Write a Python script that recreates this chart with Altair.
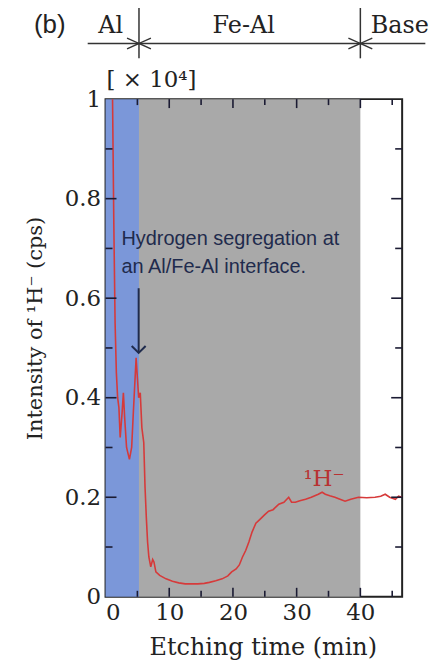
import altair as alt
import pandas as pd

# ---- data ----
time_min = [0.9, 1.1, 1.3, 1.5, 1.7, 1.9, 2.1, 2.3, 2.6, 2.8, 3.0, 3.3, 3.75, 4.1, 4.4, 4.8,
            5.0, 5.2, 5.45, 5.7, 6.0, 6.2, 6.4, 6.6, 6.8, 7.1, 7.4, 7.6, 7.9, 8.5, 9.5, 10.5,
            11.5, 12.5, 13.5, 14.5, 15.5, 16.3, 17.3, 18.3, 19.2, 19.8, 20.5, 21.0, 21.5, 22.0,
            22.5, 23.0, 23.6, 24.2, 25.0, 25.6, 26.3, 27.2, 28.0, 28.75, 29.2, 29.8, 30.5, 31.4,
            32.3, 33.4, 34.0, 34.5, 35.2, 36.0, 36.8, 37.6, 38.5, 39.7, 41.0, 42.3, 43.2, 43.9,
            44.6, 45.5, 46.0, 46.5]
intensity = [1.15, 1.0, 0.75, 0.55, 0.45, 0.40, 0.38, 0.32, 0.37, 0.41, 0.36, 0.30, 0.276, 0.30, 0.38, 0.48,
             0.44, 0.40, 0.41, 0.34, 0.31, 0.22, 0.16, 0.11, 0.08, 0.06, 0.075, 0.07, 0.05, 0.043, 0.036, 0.031,
             0.028, 0.026, 0.026, 0.026, 0.027, 0.029, 0.032, 0.036, 0.042, 0.05, 0.056, 0.064, 0.08, 0.093,
             0.11, 0.13, 0.148, 0.155, 0.165, 0.172, 0.175, 0.186, 0.19, 0.20, 0.19, 0.19, 0.193, 0.196,
             0.20, 0.206, 0.21, 0.206, 0.203, 0.20, 0.196, 0.192, 0.196, 0.20, 0.199, 0.20, 0.202, 0.206,
             0.20, 0.196, 0.202, 0.20]

region_names = ["Al", "Fe-Al"]
region_start = [0.0, 5.25]
region_end = [5.25, 40.0]
region_colors = ["#7b97d9", "#a9a9a9"]

layer_labels = ["Al", "Fe-Al", "Base"]
layer_label_pos = [0.8, 21.7, 46.2]
boundaries = [5.25, 40.0]

y_major = [0.2, 0.4, 0.6, 0.8]
y_minor = [0.1, 0.3, 0.5, 0.7, 0.9]
x_major = [10, 20, 30, 40]
x_minor = [5, 15, 25, 35, 45]

annot_lines = ["Hydrogen segregation at", "an Al/Fe-Al interface."]
annot_x = 2.5
annot_y = [0.706, 0.650]
arrow_x = 5.2
arrow_y = [0.62, 0.49]

W, H = 298, 500
XDOM = [0, 46.56]
SERIF = "DejaVu Serif"
SANS = "Liberation Sans"
INK = "#222222"

xs = alt.Scale(domain=XDOM, nice=False, zero=False)
ys = alt.Scale(domain=[0, 1], nice=False)

line_df = pd.DataFrame({"t": time_min, "v": intensity})
reg_df = pd.DataFrame({"name": region_names, "s": region_start, "e": region_end, "c": region_colors})

regions = alt.Chart(reg_df).mark_rect().encode(
    x=alt.X("s:Q", scale=xs, axis=alt.Axis(
        title="Etching time (min)", values=[0, 10, 20, 30, 40], ticks=False, domain=False, grid=False,
        labelFont=SERIF, labelFontSize=23, labelColor=INK, labelPadding=5,
        titleFont=SERIF, titleFontSize=24, titleFontWeight="normal", titleColor=INK,
        titleX=158, titleY=39)),
    x2="e:Q",
    y=alt.value(0), y2=alt.value(H),
    color=alt.Color("c:N", scale=None),
)

line = alt.Chart(line_df).mark_line(color="#d63a3a", strokeWidth=1.6, clip=True).encode(
    x=alt.X("t:Q", scale=xs),
    y=alt.Y("v:Q", scale=ys, axis=alt.Axis(
        title="Intensity of ¹H⁻ (cps)", values=[0, 0.2, 0.4, 0.6, 0.8, 1], ticks=False, domain=False, grid=False,
        labelExpr="datum.value == 0 ? '0' : datum.value == 1 ? '1' : format(datum.value, '.1f')",
        labelFont=SERIF, labelFontSize=23, labelColor=INK, labelPadding=5,
        titleFont=SERIF, titleFontSize=21, titleFontWeight="normal", titleColor=INK,
        titleX=-60, titleY=230)),
)

def tick_layer(vals, side, length):
    df = pd.DataFrame({"p": vals})
    base = alt.Chart(df).mark_rule(color="#1b1b33", strokeWidth=1.6)
    if side == "left":
        return base.encode(y=alt.Y("p:Q", scale=ys), x=alt.value(0), x2=alt.value(length))
    if side == "right":
        return base.encode(y=alt.Y("p:Q", scale=ys), x=alt.value(W), x2=alt.value(W - length))
    if side == "bottom":
        return base.encode(x=alt.X("p:Q", scale=xs), y=alt.value(H), y2=alt.value(H - length))
    return base.encode(x=alt.X("p:Q", scale=xs), y=alt.value(0), y2=alt.value(length))

ticks = [
    tick_layer(y_major, "left", 11), tick_layer(y_minor, "left", 7),
    tick_layer(y_major, "right", 11), tick_layer(y_minor, "right", 7),
    tick_layer(x_major, "bottom", 9), tick_layer(x_minor, "bottom", 6),
    tick_layer(x_major, "top", 9), tick_layer(x_minor, "top", 6),
]

# annotation text and arrow
ann_df = pd.DataFrame({"txt": annot_lines, "x": [annot_x] * 2, "y": annot_y})
ann = alt.Chart(ann_df).mark_text(font=SANS, fontSize=20, color="#1f2b4d", align="left",
                                   baseline="alphabetic").encode(
    x=alt.X("x:Q", scale=xs), y=alt.Y("y:Q", scale=ys), text="txt:N")

arr_df = pd.DataFrame({"x": [arrow_x], "y1": [arrow_y[0]], "y2": [arrow_y[1]]})
arrow_shaft = alt.Chart(arr_df).mark_rule(color="#1f2b4d", strokeWidth=2).encode(
    x=alt.X("x:Q", scale=xs), y=alt.Y("y1:Q", scale=ys), y2="y2:Q")
arrow_head = alt.Chart(arr_df).mark_point(shape="M-1,-1L0,0L1,-1", size=196, filled=False,
                                          stroke="#1f2b4d", strokeWidth=2, opacity=1).encode(
    x=alt.X("x:Q", scale=xs), y=alt.Y("y2:Q", scale=ys))

hlab_df = pd.DataFrame({"x": [34.3], "y": [0.236], "txt": ["¹H⁻"]})
hlab = alt.Chart(hlab_df).mark_text(font=SERIF, fontSize=23, color="#b83232").encode(
    x=alt.X("x:Q", scale=xs), y=alt.Y("y:Q", scale=ys), text="txt:N")

# top layer diagram
top_lab_df = pd.DataFrame({"x": layer_label_pos, "txt": layer_labels})
top_labels = alt.Chart(top_lab_df).mark_text(font=SERIF, fontSize=24, color=INK,
                                             baseline="alphabetic").encode(
    x=alt.X("x:Q", scale=xs), y=alt.value(-66), text="txt:N")

hline_df = pd.DataFrame({"a": [-2.8], "b": [50.2]})
hline = alt.Chart(hline_df).mark_rule(color="#333333", strokeWidth=1.5).encode(
    x=alt.X("a:Q", scale=xs), x2="b:Q", y=alt.value(-56))

bnd_df = pd.DataFrame({"x": boundaries})
vlines = alt.Chart(bnd_df).mark_rule(color="#333333", strokeWidth=1.5).encode(
    x=alt.X("x:Q", scale=xs), y=alt.value(-95), y2=alt.value(-41))
chev_r = alt.Chart(bnd_df).mark_point(shape="M-1,-0.45L0,0L-1,0.45", size=576, filled=False,
                                      stroke="#333333", strokeWidth=1.4, opacity=1).encode(
    x=alt.X("x:Q", scale=xs), y=alt.value(-56))
chev_l = alt.Chart(bnd_df).mark_point(shape="M1,-0.45L0,0L1,0.45", size=576, filled=False,
                                      stroke="#333333", strokeWidth=1.4, opacity=1).encode(
    x=alt.X("x:Q", scale=xs), y=alt.value(-56))

b_lab = alt.Chart(pd.DataFrame({"txt": ["(b)"]})).mark_text(
    font=SANS, fontSize=26, color=INK, baseline="alphabetic").encode(
    x=alt.value(-56), y=alt.value(-66), text="txt:N")

mult_lab = alt.Chart(pd.DataFrame({"txt": ["[ × 10⁴]"]})).mark_text(
    font=SERIF, fontSize=23, color=INK, align="left", baseline="alphabetic").encode(
    x=alt.value(1), y=alt.value(-12), text="txt:N")

chart = alt.layer(
    regions, line, *ticks, ann, arrow_shaft, arrow_head, hlab,
    top_labels, hline, vlines, chev_r, chev_l, b_lab, mult_lab,
).properties(
    width=W, height=H,
    autosize="none",
    padding={"left": 98, "top": 90, "right": 30, "bottom": 70},
).configure_view(stroke="#222222", strokeWidth=2)

chart.save("out.html", embed_options={"renderer": "svg", "actions": False})
